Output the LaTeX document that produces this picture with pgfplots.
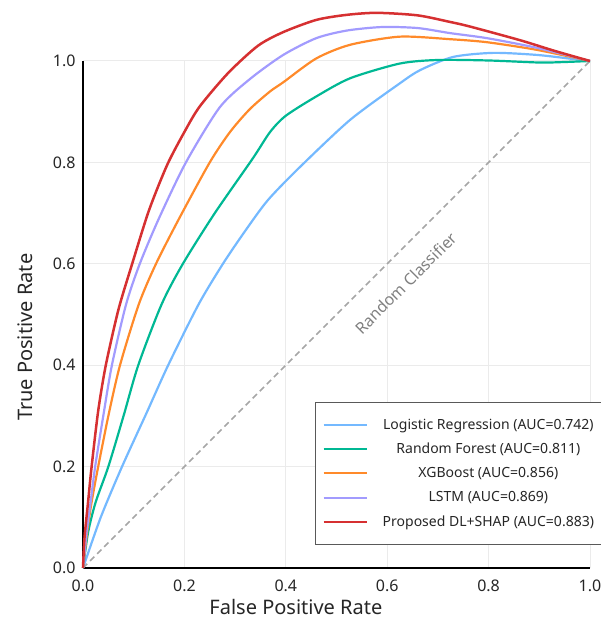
\documentclass[border=0pt]{standalone}
\usepackage{fontspec}
\setmainfont{Noto Sans}
\usepackage{pgfplots}
\pgfplotsset{compat=1.18}
\definecolor{lrblue}{HTML}{74B9FF}
\definecolor{rfgreen}{HTML}{00B894}
\definecolor{xgorange}{HTML}{FF8A2A}
\definecolor{lstmpurple}{HTML}{A29BFE}
\definecolor{propred}{HTML}{D63031}
\begin{document}
\begin{tikzpicture}
\begin{axis}[
    scale only axis, width=507pt, height=507pt,
    xmin=0, xmax=1, ymin=0, ymax=1,
    clip=false,
    axis x line=bottom, axis y line=left,
    axis line style={line width=2.4pt, black, -},
    xtick={0,0.2,0.4,0.6,0.8,1.0}, ytick={0,0.2,0.4,0.6,0.8,1.0},
    major tick length=0pt,
    grid=major, grid style={color=black!8, line width=1pt},
    /pgf/number format/fixed, /pgf/number format/fixed zerofill,
    /pgf/number format/precision=1, /pgf/number format/assume math mode=true,
    tick label style={font=\fontsize{16}{18}\selectfont, text=black!85},
    xticklabel style={yshift=-8pt},
    yticklabel style={xshift=-4pt},
    xlabel={False Positive Rate}, ylabel={True Positive Rate},
    label style={font=\fontsize{20}{24}\selectfont, text=black!85},
    xlabel style={at={(axis description cs:0.42,-0.077)}, anchor=center},
    ylabel style={at={(axis description cs:-0.114,0.455)}, anchor=center},
    legend style={at={(axis cs:0.458,0.327)}, anchor=north west,
        draw=black!65, line width=1pt, fill=white,
        font=\fontsize{14}{16}\selectfont, text=black!85,
        inner xsep=7pt, inner ysep=14pt, row sep=8.5pt, column sep=13pt},
    legend cell align=center,
    legend image code/.code={\draw[#1, line width=2pt] (0pt,0pt) -- (43pt,0pt);},
    every axis plot/.append style={smooth, tension=0.45, line join=round},
]
% diagonal reference
\addplot[color=black!35, line width=1.6pt, dash pattern=on 6pt off 4pt, forget plot, sharp plot]
  coordinates {(0,0) (1,1)};
\node[rotate=45, text=black!50, font=\fontsize{16}{18}\selectfont]
  at (axis cs:0.637,0.562) {Random Classifier};

% Logistic Regression
\addplot[lrblue, line width=2.2pt] coordinates {
  (0,0) (0.035,0.1) (0.077,0.2) (0.125,0.305) (0.168,0.4)
  (0.228,0.52) (0.276,0.6) (0.32,0.665) (0.365,0.726) (0.428,0.791)
  (0.527,0.884) (0.625,0.956) (0.665,0.982) (0.73,1.008) (0.809,1.016)
  (0.895,1.012) (0.966,1.004) (1,1)};
\addlegendentry{Logistic Regression (AUC=0.742)}

% Random Forest
\addplot[rfgreen, line width=2.2pt] coordinates {
  (0,0) (0.01,0.07) (0.025,0.13) (0.05,0.2) (0.08,0.3) (0.109,0.4)
  (0.155,0.52) (0.197,0.6) (0.26,0.7) (0.335,0.808)
  (0.369,0.86) (0.4,0.892) (0.46,0.93) (0.527,0.966) (0.625,0.995)
  (0.7,1.002) (0.8,1.001) (0.9,0.997) (0.95,0.998) (1,1)};
\addlegendentry{Random Forest (AUC=0.811)}

% XGBoost
\addplot[xgorange, line width=2.2pt] coordinates {
  (0,0) (0.008,0.07) (0.017,0.13) (0.03,0.2) (0.05,0.3) (0.073,0.4)
  (0.11,0.52) (0.144,0.6) (0.19,0.69) (0.25,0.8)
  (0.29,0.86) (0.329,0.905) (0.369,0.94) (0.395,0.958) (0.46,1.005)
  (0.527,1.032) (0.625,1.048) (0.724,1.043) (0.797,1.037) (0.895,1.022) (1,1)};
\addlegendentry{XGBoost (AUC=0.856)}

% LSTM
\addplot[lstmpurple, line width=2.2pt] coordinates {
  (0,0) (0.007,0.07) (0.015,0.13) (0.024,0.2) (0.04,0.3) (0.057,0.4)
  (0.085,0.52) (0.112,0.6) (0.15,0.69) (0.203,0.8)
  (0.27,0.909) (0.33,0.965) (0.395,1.012) (0.46,1.045) (0.52,1.06)
  (0.59,1.067) (0.66,1.065) (0.724,1.055) (0.797,1.045) (0.895,1.026) (1,1)};
\addlegendentry{LSTM (AUC=0.869)}

% Proposed DL+SHAP
\addplot[propred, line width=2.5pt] coordinates {
  (0,0) (0.003,0.06) (0.01,0.13) (0.017,0.2) (0.03,0.31) (0.045,0.4)
  (0.07,0.51) (0.097,0.6) (0.13,0.705) (0.166,0.795) (0.2,0.86) (0.23,0.91)
  (0.286,0.976) (0.345,1.03) (0.395,1.057) (0.46,1.081) (0.52,1.091)
  (0.58,1.095) (0.66,1.09) (0.724,1.077) (0.763,1.068) (0.862,1.041)
  (0.93,1.02) (1,1)};
\addlegendentry{Proposed DL+SHAP (AUC=0.883)}

\coordinate (bl) at (rel axis cs:0,0);
\coordinate (tr) at (rel axis cs:1,1);
\end{axis}
\pgfresetboundingbox
\path ([shift={(-83pt,-53pt)}]bl) rectangle ([shift={(11pt,61pt)}]tr);
\end{tikzpicture}
\end{document}
